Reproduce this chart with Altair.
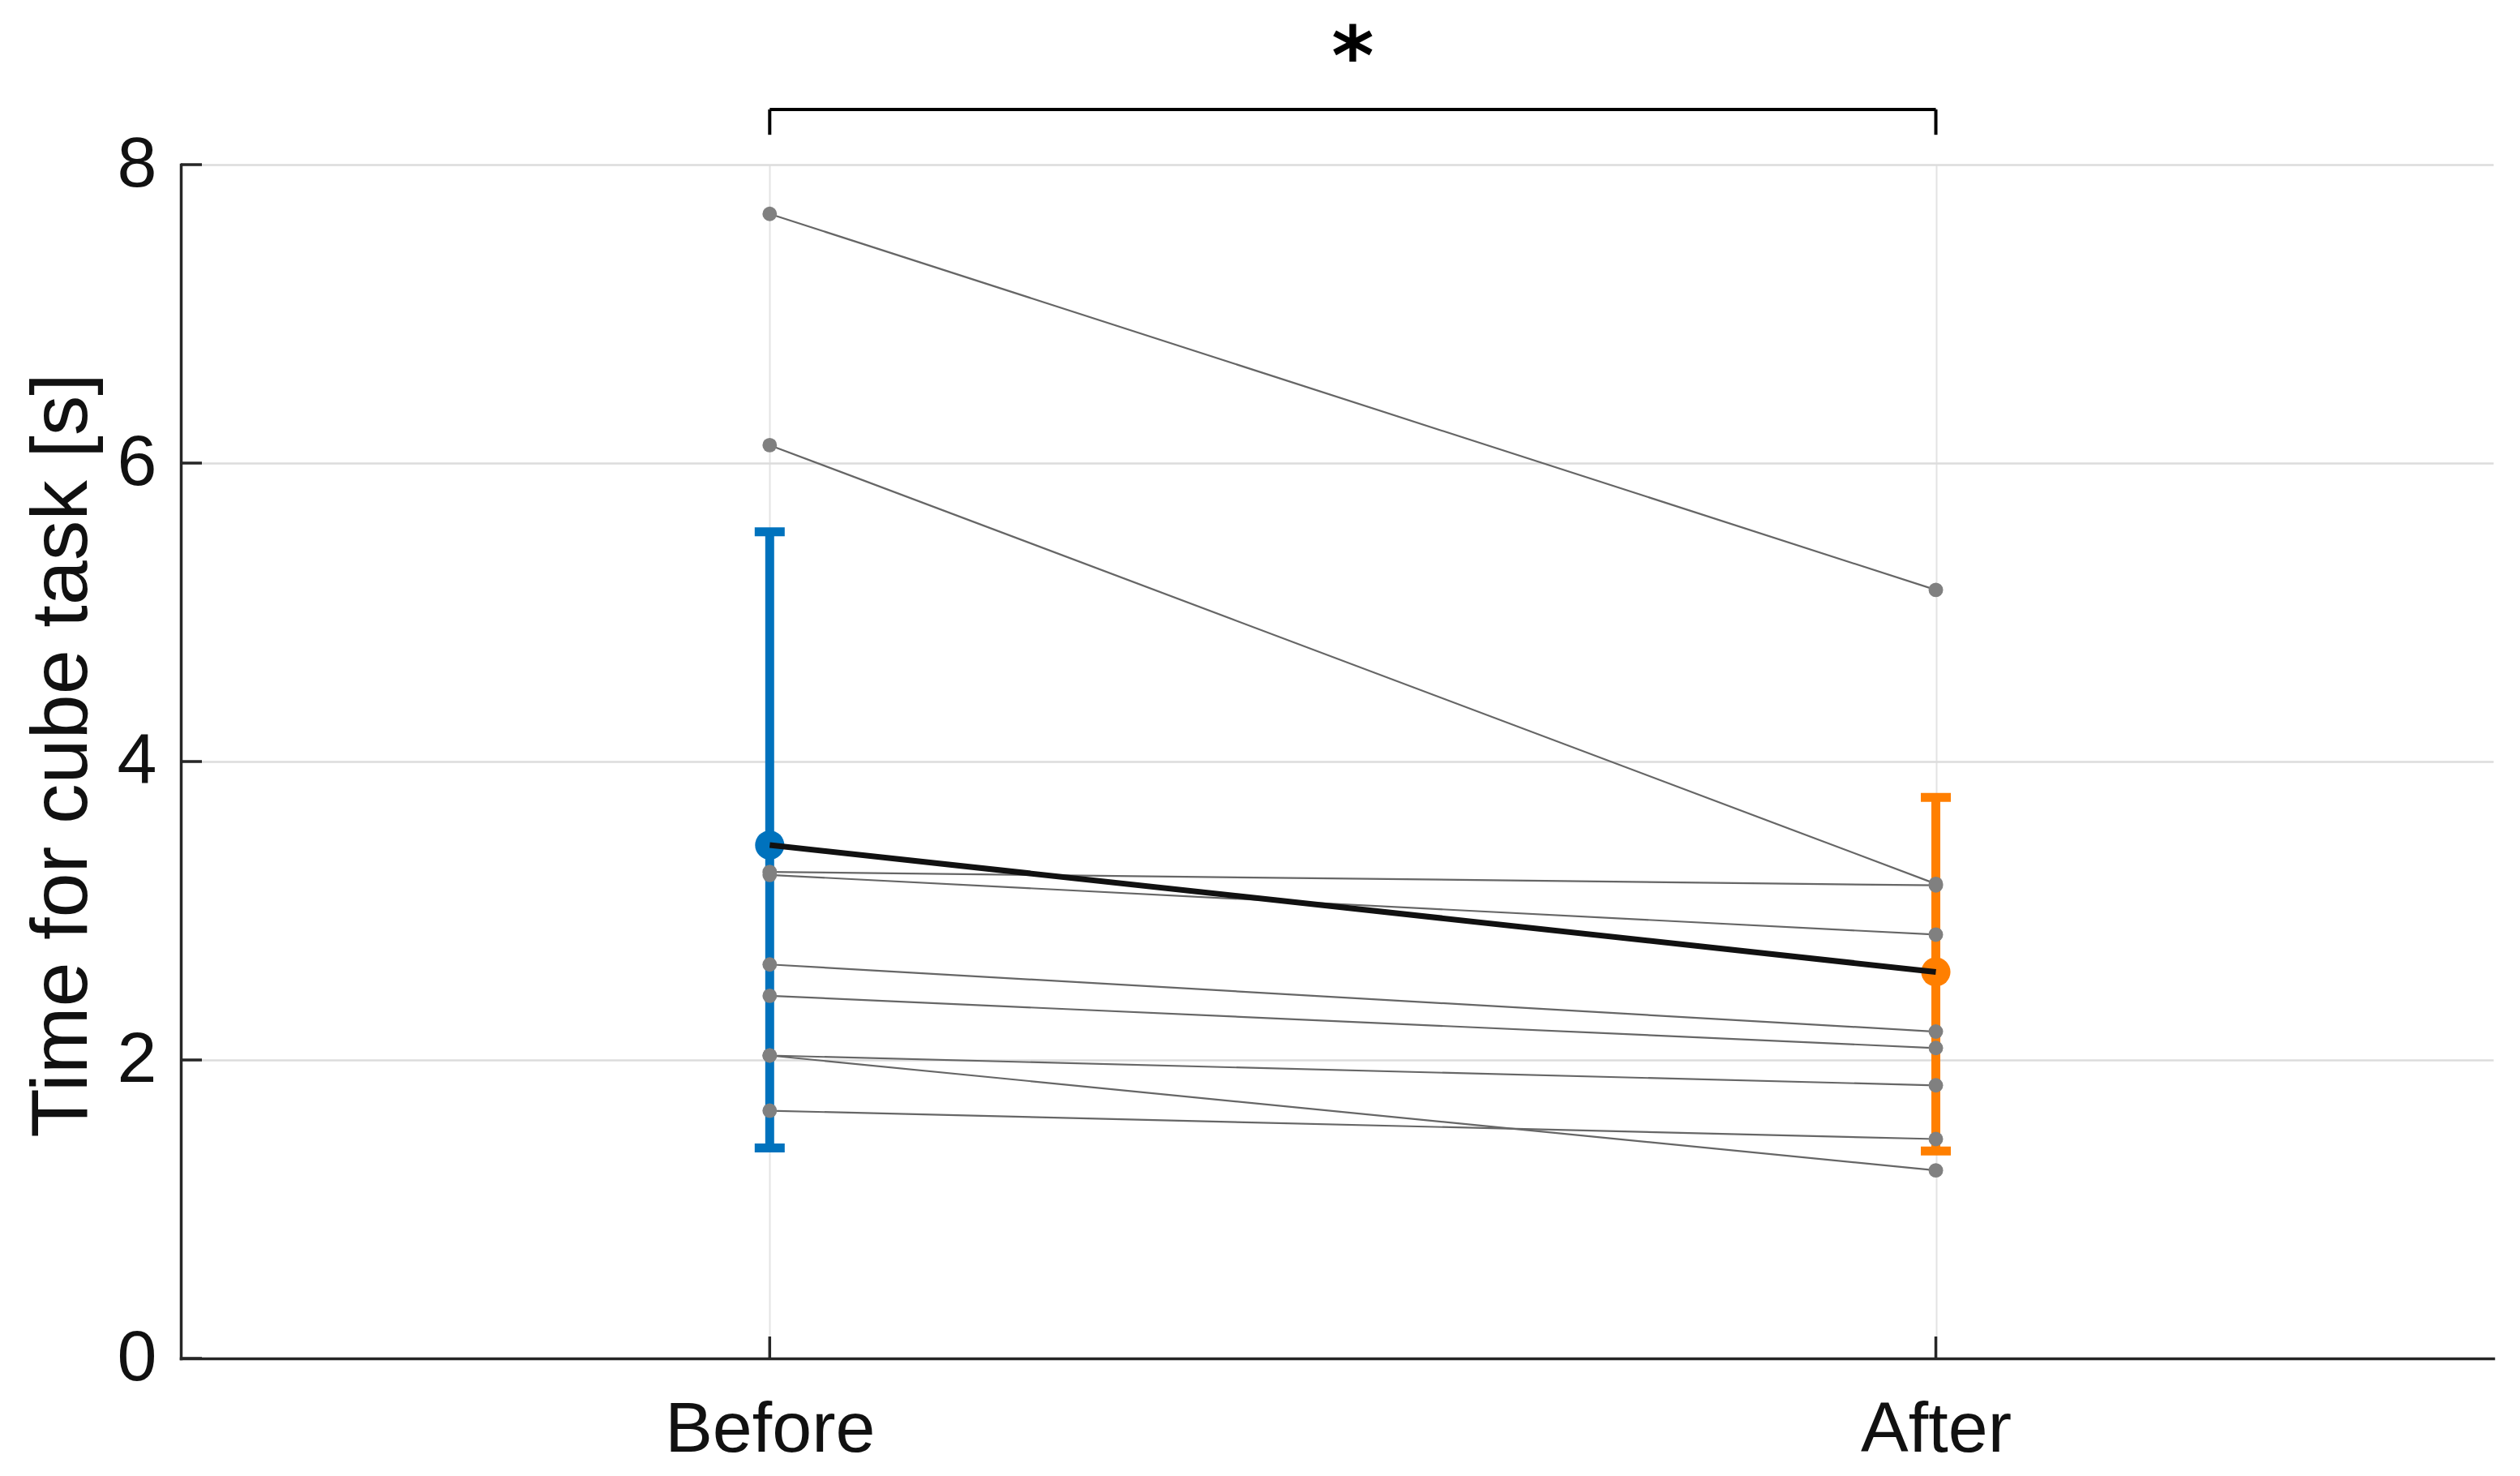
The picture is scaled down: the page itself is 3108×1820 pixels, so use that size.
import altair as alt
import pandas as pd

# ---------------- data ----------------
conditions = ["Before", "After"]
cond_x = [1, 2]
before = [7.67, 6.12, 3.26, 3.24, 2.64, 2.43, 2.03, 2.03, 1.66]
after = [5.15, 3.18, 3.17, 2.84, 2.19, 2.08, 1.83, 1.26, 1.47]
means = [3.44, 2.59]
err_low = [1.41, 1.39]
err_high = [5.54, 3.76]
y_ticks = [0, 2, 4, 6, 8]
# significance annotation
sig_label = "*"
bracket_top = 8.37
bracket_end = 8.20
star_y = 8.54

W, H = 2852, 1472
FONT = "Liberation Sans"
AXC = "#262626"

subj_rows = []
for i, (b, a) in enumerate(zip(before, after)):
    subj_rows.append({"subject": i, "x": cond_x[0], "y": b})
    subj_rows.append({"subject": i, "x": cond_x[1], "y": a})
subj = pd.DataFrame(subj_rows)

summ = pd.DataFrame({"cond": conditions, "x": cond_x, "mean": means,
                     "lo": err_low, "hi": err_high})

xscale = alt.Scale(domain=[0.495, 2.478], nice=False, zero=False)
yscale = alt.Scale(domain=[0, 8], nice=False, zero=False)
cscale = alt.Scale(domain=conditions, range=["#0072BD", "#FF7F00"])

xaxis = alt.Axis(values=cond_x, labelExpr="datum.value == 1 ? 'Before' : 'After'",
                 title=None, ticks=False, tickSize=0, labelFontSize=88, labelFont=FONT,
                 labelColor="#111111", labelPadding=114, labelBaseline="alphabetic",
                 labelLimit=1000, labelOverlap=False,
                 grid=True, gridColor="#e3e3e3", gridWidth=2,
                 domainColor=AXC, domainWidth=3.5)
yaxis = alt.Axis(values=y_ticks, title="Time for cube task [s]", ticks=False, tickSize=0,
                 labelFontSize=88, labelFont=FONT, labelColor="#111111", labelPadding=30,
                 labelLimit=1000,
                 titleFont=FONT, titleFontSize=99, titleFontWeight="normal", titleColor="#111111",
                 titleAngle=270, titleAlign="center", titleBaseline="alphabetic",
                 titleX=-117, titleY=728, titleLimit=3000,
                 grid=True, gridColor="#dcdcdc", gridWidth=2.5,
                 domainColor=AXC, domainWidth=3.5)

base_subj = alt.Chart(subj)
base_summ = alt.Chart(summ)

err = base_summ.mark_rule(strokeWidth=11, opacity=1).encode(
    x=alt.X("x:Q", scale=xscale, axis=xaxis),
    y=alt.Y("lo:Q", scale=yscale, axis=yaxis),
    y2="hi:Q",
    color=alt.Color("cond:N", scale=cscale, legend=None),
)
cap_lo = base_summ.mark_tick(orient="horizontal", size=37, thickness=11, opacity=1).encode(
    x=alt.X("x:Q", scale=xscale, axis=xaxis),
    y=alt.Y("lo:Q", scale=yscale, axis=yaxis),
    color=alt.Color("cond:N", scale=cscale, legend=None),
)
cap_hi = base_summ.mark_tick(orient="horizontal", size=37, thickness=11, opacity=1).encode(
    x=alt.X("x:Q", scale=xscale, axis=xaxis),
    y=alt.Y("hi:Q", scale=yscale, axis=yaxis),
    color=alt.Color("cond:N", scale=cscale, legend=None),
)
mean_pts = base_summ.mark_circle(size=1300, opacity=1).encode(
    x=alt.X("x:Q", scale=xscale, axis=xaxis),
    y=alt.Y("mean:Q", scale=yscale, axis=yaxis),
    color=alt.Color("cond:N", scale=cscale, legend=None),
)
subj_lines = base_subj.mark_line(color="#666666", strokeWidth=2.2).encode(
    x=alt.X("x:Q", scale=xscale, axis=xaxis),
    y=alt.Y("y:Q", scale=yscale, axis=yaxis),
    detail="subject:N",
)
subj_pts = base_subj.mark_circle(size=320, color="#808080", opacity=1).encode(
    x=alt.X("x:Q", scale=xscale, axis=xaxis),
    y=alt.Y("y:Q", scale=yscale, axis=yaxis),
)
mean_line = base_summ.mark_line(color="#111111", strokeWidth=7).encode(
    x=alt.X("x:Q", scale=xscale, axis=xaxis),
    y=alt.Y("mean:Q", scale=yscale, axis=yaxis),
)

# inward ticks
ytick_df = pd.DataFrame({"v": y_ticks})
xtick_df = pd.DataFrame({"v": cond_x})
ytk = alt.Chart(ytick_df).mark_rule(color=AXC, strokeWidth=3.5).encode(
    y=alt.Y("v:Q", scale=yscale, axis=yaxis), x=alt.value(0), x2=alt.value(26))
xtk = alt.Chart(xtick_df).mark_rule(color=AXC, strokeWidth=3.5).encode(
    x=alt.X("v:Q", scale=xscale, axis=xaxis), y=alt.value(H), y2=alt.value(H - 27))

# significance bracket
br_df = pd.DataFrame({"x1": [cond_x[0]], "x2": [cond_x[1]], "yt": [bracket_top],
                      "ye": [bracket_end], "xm": [(cond_x[0] + cond_x[1]) / 2],
                      "ys": [star_y], "lab": [sig_label]})
br_h = alt.Chart(br_df).mark_rule(color="#000000", strokeWidth=4).encode(
    x=alt.X("x1:Q", scale=xscale, axis=xaxis), x2="x2:Q",
    y=alt.Y("yt:Q", scale=yscale, axis=yaxis))
br_l = alt.Chart(br_df).mark_rule(color="#000000", strokeWidth=4).encode(
    x=alt.X("x1:Q", scale=xscale, axis=xaxis),
    y=alt.Y("yt:Q", scale=yscale, axis=yaxis), y2="ye:Q")
br_r = alt.Chart(br_df).mark_rule(color="#000000", strokeWidth=4).encode(
    x=alt.X("x2:Q", scale=xscale, axis=xaxis),
    y=alt.Y("yt:Q", scale=yscale, axis=yaxis), y2="ye:Q")
star = alt.Chart(br_df).mark_text(font="DejaVu Sans", fontSize=100, fontWeight="bold",
                                  baseline="alphabetic", align="center", color="#000000").encode(
    x=alt.X("xm:Q", scale=xscale, axis=xaxis),
    y=alt.Y("ys:Q", scale=yscale, axis=yaxis),
    text="lab:N")

chart = alt.layer(
    err, cap_lo, cap_hi, mean_pts, subj_lines, subj_pts, mean_line,
    ytk, xtk, br_h, br_l, br_r, star,
).properties(
    width=W, height=H,
    autosize=alt.AutoSizeParams(type="none"),
    padding={"left": 215, "top": 195, "right": 20, "bottom": 135},
    background="#ffffff",
).configure_view(stroke=None).configure_axis(domainCap="square")

chart.save("out.html", embed_options={"renderer": "svg", "actions": False})
